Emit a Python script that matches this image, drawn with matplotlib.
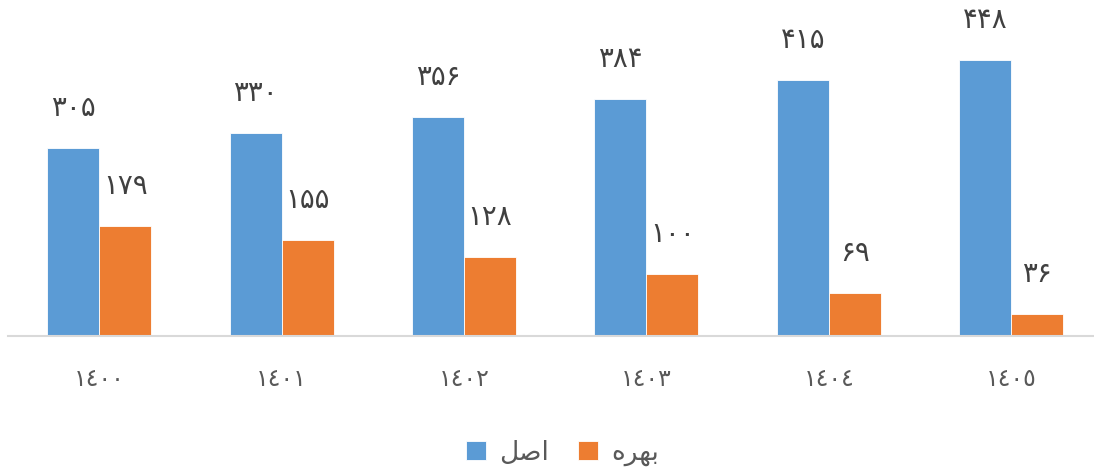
import matplotlib.pyplot as plt
import numpy as np

plt.rcParams['font.family'] = ['DejaVu Sans']

years = ['١٤٠٠', '١٤٠١', '١٤٠٢', '١٤٠٣', '١٤٠٤', '١٤٠٥']
principal = [305, 330, 356, 384, 415, 448]
interest = [179, 155, 128, 100, 69, 36]

# legend names written in shaped (presentation) forms, left-to-right visual order
name_principal = '\uFEDE\uFEBB\uFE8D'          # اصل
name_interest = '\uFEE9\uFEAE\uFEEC\uFE91'      # بهره

persian = str.maketrans('0123456789', '۰۱۲۳۴۵۶۷۸۹')

blue = '#5b9bd5'
orange = '#ed7d31'

fig = plt.figure(figsize=(10.94, 4.68), dpi=100)
ax = fig.add_axes([8 / 1094, 1 - 336 / 468, 1 - 8 / 1094, 336 / 468])

x = np.arange(len(years))
w = 0.285
b1 = ax.bar(x - w / 2, principal, w, color=blue, edgecolor='white', linewidth=0.6,
            label=name_principal)
b2 = ax.bar(x + w / 2, interest, w, color=orange, edgecolor='white', linewidth=0.6,
            label=name_interest)

for bars, vals in ((b1, principal), (b2, interest)):
    for r, v in zip(bars, vals):
        ax.annotate(str(v).translate(persian),
                    (r.get_x() + r.get_width() / 2, v),
                    xytext=(0, 40), textcoords='offset pixels',
                    ha='center', va='center', fontsize=20, color='#404040')

ax.set_xlim(-0.5, 5.454)
ax.set_ylim(0, 545)
ax.set_xticks(x)
ax.set_xticklabels(years, fontsize=17, color='#595959')
ax.tick_params(axis='x', length=0, pad=22)
ax.set_yticks([])
for s in ('top', 'right', 'left'):
    ax.spines[s].set_visible(False)
ax.spines['bottom'].set_color('#d9d9d9')
ax.spines['bottom'].set_linewidth(1.5)

fig.legend(loc='center', bbox_to_anchor=(0.514, 1 - 453 / 468), ncol=2, frameon=False,
           fontsize=19, labelcolor='#595959', handlelength=0.75, handleheight=0.75,
           handletextpad=0.5, columnspacing=1.1)

fig.savefig('out.png', dpi=100)
